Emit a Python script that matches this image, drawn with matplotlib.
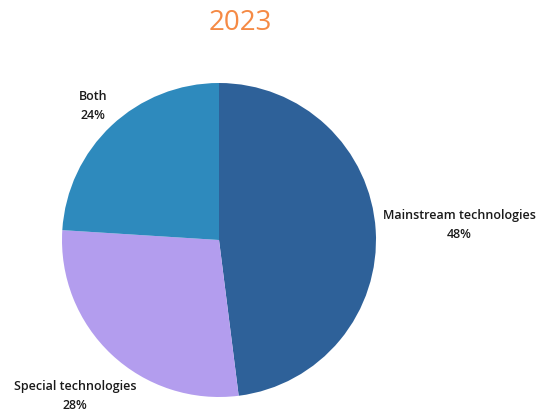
import matplotlib
matplotlib.use("Agg")
import matplotlib.pyplot as plt

categories = ["Mainstream technologies", "Special technologies", "Both"]
shares = [48, 28, 24]
colors = ["#2E6199", "#B39DEE", "#2E8ABD"]
label_pos = [(1.53, 0.096), (-0.917, -0.994), (-0.80, 0.853)]

fig = plt.figure(figsize=(5.39, 4.12), dpi=100)
ax = fig.add_axes([62 / 539, 15 / 412, 314 / 539, 314 / 412])
ax.pie(shares, colors=colors, startangle=90, counterclock=False,
       radius=1, wedgeprops=dict(linewidth=0))
ax.set_xlim(-1, 1)
ax.set_ylim(-1, 1)
ax.set_aspect("equal")
ax.axis("off")

for name, val, (x, y) in zip(categories, shares, label_pos):
    ax.text(x, y, f"{name}\n{val}%", ha="center", va="center",
            fontsize=9.0, fontfamily="Open Sans", fontweight="semibold",
            color="#1a1a1a", linespacing=1.6, clip_on=False)

fig.text(240 / 539, 1 - 23 / 412, "2023", ha="center", va="center",
         fontsize=20, fontfamily="Open Sans", fontweight="medium",
         color="#F58A45")

fig.savefig("out.png", dpi=100)
